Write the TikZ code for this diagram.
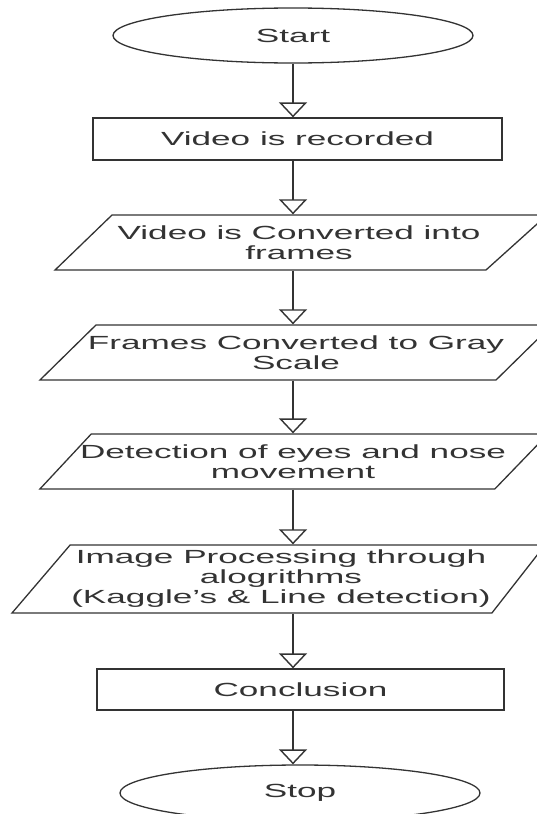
\documentclass[tikz,border=0pt]{standalone}
\usepackage{fontspec}
\setmainfont{Liberation Sans}[FakeStretch=1.85]
\usetikzlibrary{shapes.geometric}
\usetikzlibrary{arrows.meta}
\usetikzlibrary{positioning}

\begin{document}
\begin{tikzpicture}[x=1pt, y=-1pt,
  every node/.style={font=\fontsize{19}{20}\selectfont, text=black!80, align=center},
  terminal/.style={ellipse, draw=black!80, line width=1.3pt, minimum width=360pt, minimum height=55pt, inner sep=0pt},
  process/.style={rectangle, draw=black!80, line width=1.3pt, minimum width=409pt, minimum height=42pt, inner sep=0pt},
  data/.style={trapezium, trapezium stretches body=true, draw=black!80, line width=1.3pt,
    inner xsep=0pt, inner ysep=17.5pt},
  flow/.style={draw=black!80, line width=1.4pt, -{Triangle[open, width=28pt, length=15pt]}}
]

  \useasboundingbox (0,0) rectangle (537,814);
  \coordinate (axis) at (293,0);

  % terminals
  \node[terminal] (start) at (293,35.5) {Start};
  \node[terminal, minimum height=56pt] (stop) at (300,793) {Stop};

  % process steps
  \node[process] (record) at (297.5,139) {Video is recorded};
  \node[process, minimum width=407pt, minimum height=41pt] (conclusion) at (300.5,689.5) {Conclusion};

  % data steps
  \node[data, minimum width=492pt, trapezium left angle=44, trapezium right angle=138,
    label=center:{Video is Converted into\\frames}] (frames) at (299,242.5) {\strut};
  \node[data, minimum width=512pt, trapezium left angle=44.5, trapezium right angle=135.5,
    label=center:{Frames Converted to Gray\\Scale}] (gray) at (296,352.5) {\strut};
  \node[data, minimum width=508pt, trapezium left angle=47, trapezium right angle=134,
    label=center:{Detection of eyes and nose\\movement}] (detect) at (293,461.5) {\strut};
  \node[data, minimum width=533pt, inner ysep=24pt, trapezium left angle=49.5, trapezium right angle=128,
    label=center:{Image Processing through\\alogrithms\\(Kaggle's \& Line detection)}] (algo) at (281,579) {\strut};

  % flow arrows
  \foreach \from/\to in {start/record, record/frames, frames/gray, gray/detect,
    detect/algo, algo/conclusion, conclusion/stop}
    \draw[flow] (\from.south -| axis) -- (\to.north -| axis);

\end{tikzpicture}
\end{document}
